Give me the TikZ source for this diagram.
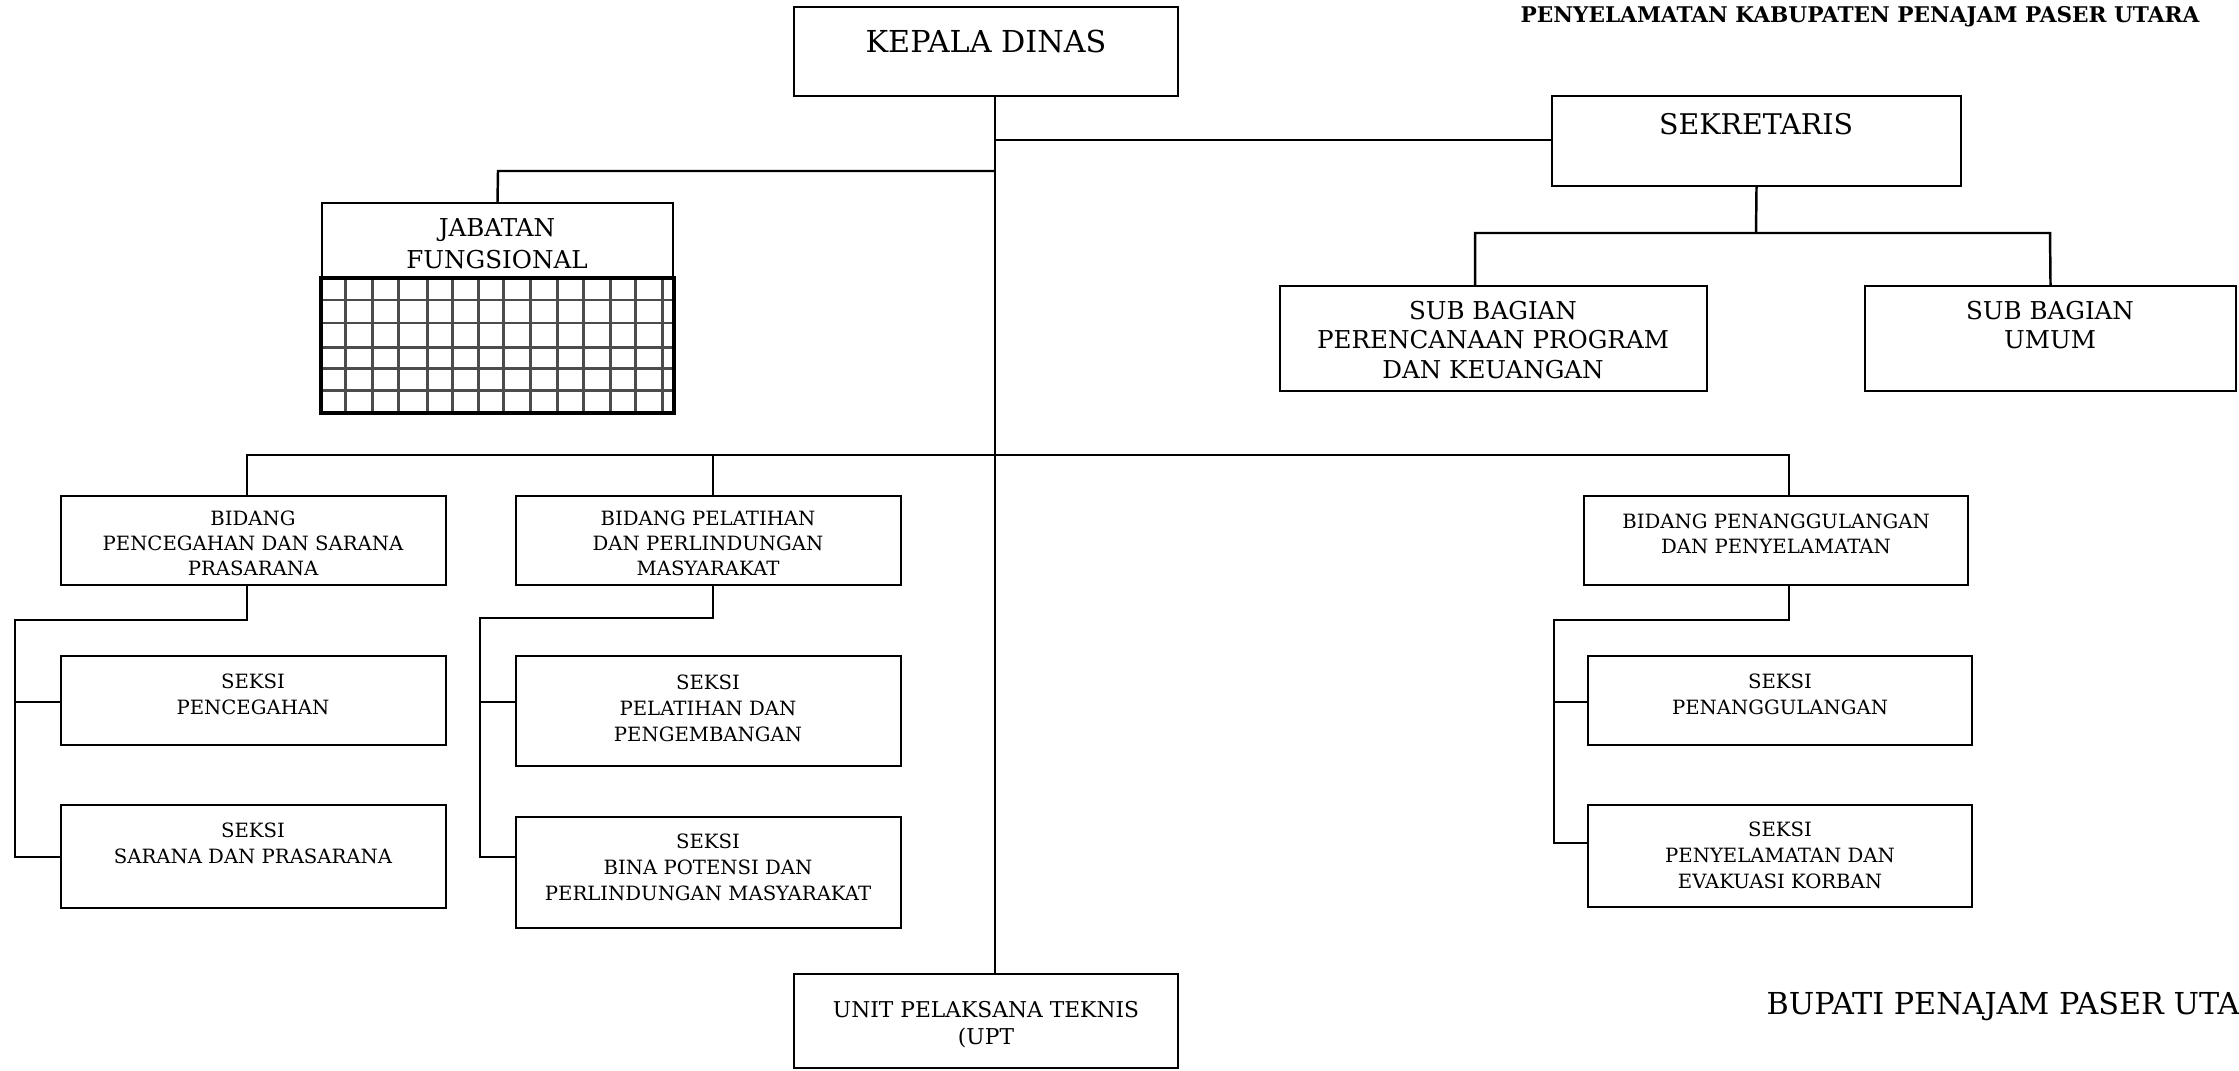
\documentclass[tikz,border=0pt]{standalone}
\usepackage{fontspec}
\setmainfont{DejaVu Serif}
\usetikzlibrary{fit}
\newcommand\fbig{\fontsize{8.6}{9.5}\selectfont}
\newcommand\fsek{\fontsize{8.1}{9.5}\selectfont}
\newcommand\fsub{\fontsize{7.0}{8.4}\selectfont}
\newcommand\fjf{\fontsize{7.0}{9.1}\selectfont}
\newcommand\fupt{\fontsize{6.2}{7.7}\selectfont}
\newcommand\fsm{\fontsize{5.6}{7.1}\selectfont}
\newcommand\fsk{\fontsize{5.6}{7.4}\selectfont}
\newcommand\fbup{\fontsize{8.6}{10}\selectfont}
\newcommand\ftitle{\fontsize{6.15}{7}\selectfont\bfseries}
\begin{document}
\begin{tikzpicture}[x=0.1mm,y=-0.1mm,
  box/.style={draw, line width=0.6pt, inner sep=0pt},
  lbl/.style={align=center, inner sep=0pt},
  ln/.style={line width=0.7pt},
  gridln/.style={line width=0.85pt, black!70}]
\useasboundingbox (0,0) rectangle (2239,1070);
\clip (0,0) rectangle (2239,1070);

% boxes
\node[box, fit={(794,7) (1178,96)}] (kd) {};
\node[box, fit={(1552,96) (1961,186)}] (sek) {};
\node[box, fit={(1280,286) (1707,391)}] (sbp) {};
\node[box, fit={(1865,286) (2236,391)}] (sbu) {};
\node[box, fit={(322,203) (673,279)}] (jf) {};
\node[box, fit={(322,279) (673,412)}] (jfg) {};
\node[box, fit={(61,496) (446,585)}] (bp) {};
\node[box, fit={(516,496) (901,585)}] (bpl) {};
\node[box, fit={(1584,496) (1968,585)}] (bpn) {};
\node[box, fit={(61,656) (446,745)}] (sp) {};
\node[box, fit={(61,805) (446,908)}] (ss) {};
\node[box, fit={(516,656) (901,766)}] (spl) {};
\node[box, fit={(516,817) (901,928)}] (sbn) {};
\node[box, fit={(1588,656) (1972,745)}] (spn) {};
\node[box, fit={(1588,805) (1972,907)}] (spy) {};
\node[box, fit={(794,974) (1178,1068)}] (upt) {};

% grid of jabatan fungsional
\foreach \gx in {345,372,398,427,452,478,503,530,557,583,610,635,662}
  \draw[gridln] (\gx,279) -- (\gx,412);
\foreach \gy in {300,323,347,368,390}
  \draw[gridln] (322,\gy) -- (673,\gy);
\draw[line width=1pt] (jfg.north west) rectangle (jfg.south east);

% texts
\node[lbl, font=\fbig] (kdt) at (986,41) {KEPALA DINAS};
\node[lbl, font=\fsek] (sekt) at (1756,124) {SEKRETARIS};
\node[lbl, font=\fsub] (sbpt) at (1493,340) {SUB BAGIAN\\PERENCANAAN PROGRAM\\DAN KEUANGAN};
\node[lbl, font=\fsub] (sbut) at (2050,325) {SUB BAGIAN\\UMUM};
\node[lbl, font=\fjf] (jft) at (497,244) {JABATAN\\FUNGSIONAL};
\node[lbl, font=\fsm] (bpt) at (253,543) {BIDANG\\PENCEGAHAN DAN SARANA\\PRASARANA};
\node[lbl, font=\fsm] (bplt) at (708,543) {BIDANG PELATIHAN\\DAN PERLINDUNGAN\\MASYARAKAT};
\node[lbl, font=\fsm] (bpnt) at (1776,534) {BIDANG PENANGGULANGAN\\DAN PENYELAMATAN};
\node[lbl, font=\fsk] (spt) at (253,694) {SEKSI\\PENCEGAHAN};
\node[lbl, font=\fsk] (sst) at (253,843) {SEKSI\\SARANA DAN PRASARANA};
\node[lbl, font=\fsk] (splt) at (708,708) {SEKSI\\PELATIHAN DAN\\PENGEMBANGAN};
\node[lbl, font=\fsk] (sbnt) at (708,867) {SEKSI\\BINA POTENSI DAN\\PERLINDUNGAN MASYARAKAT};
\node[lbl, font=\fsk] (spnt) at (1780,694) {SEKSI\\PENANGGULANGAN};
\node[lbl, font=\fsk] (spyt) at (1780,855) {SEKSI\\PENYELAMATAN DAN\\EVAKUASI KORBAN};
\node[lbl, font=\fupt] (uptt) at (986,1025) {UNIT PELAKSANA TEKNIS\\(UPT};
\node[lbl, font=\fbup, anchor=west] (bup) at (1766,1006) {BUPATI PENAJAM PASER UTARA};
\node[lbl, font=\ftitle] (ttl) at (1860,17) {PENYELAMATAN KABUPATEN PENAJAM PASER UTARA};

% junction coordinates
\coordinate (jSek) at (995,140);
\coordinate (jJf) at (995,171);
\coordinate (jJf2) at (498,171);
\coordinate (busL) at (247,455);
\coordinate (busM) at (713,455);
\coordinate (busR) at (1789,455);
\coordinate (sekD) at (1756,233);
\coordinate (sbL) at (1475,233);
\coordinate (sbR) at (2050,233);
\coordinate (lT) at (15,620);
\coordinate (lB) at (247,620);
\coordinate (mT) at (480,618);
\coordinate (mB) at (713,618);
\coordinate (rT) at (1554,620);
\coordinate (rB) at (1789,620);

% connectors
\draw[ln] (kd.south -| 995,0) -- (upt.north -| 995,0);
\draw[ln] (jSek) -- (sek.west |- jSek);
\draw[ln] (jJf) -- (jJf2) -- (jf.north);
\draw[ln] (sek.south) -- (sekD);
\draw[ln] (sbL |- sbp.north) -- (sbL) -- (sbR) -- (sbu.north);
\draw[ln] (busL |- bp.north) -- (busL) -- (busR) -- (busR |- bpn.north);
\draw[ln] (busM) -- (busM |- bpl.north);
% left tree
\draw[ln] (lB |- bp.south) -- (lB) -- (lT) -- (lT |- 0,857) -- (ss.west |- 0,857);
\draw[ln] (lT |- 0,702) -- (sp.west |- 0,702);
% middle tree
\draw[ln] (mB |- bpl.south) -- (mB) -- (mT) -- (mT |- 0,857) -- (sbn.west |- 0,857);
\draw[ln] (mT |- 0,702) -- (spl.west |- 0,702);
% right tree
\draw[ln] (rB |- bpn.south) -- (rB) -- (rT) -- (rT |- 0,843) -- (spy.west |- 0,843);
\draw[ln] (rT |- 0,702) -- (spn.west |- 0,702);
\end{tikzpicture}
\end{document}
